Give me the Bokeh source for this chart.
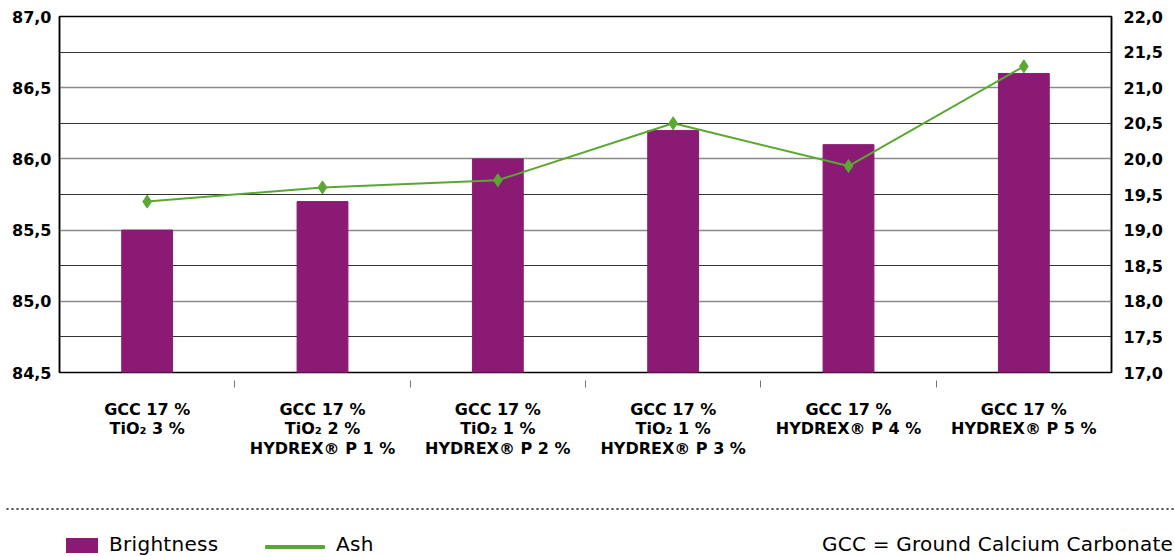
from bokeh.plotting import figure
from bokeh.models import (Range1d, LinearAxis, CategoricalAxis, FixedTicker, Grid, FactorRange,
                          CustomJSTickFormatter, Div)
from bokeh.layouts import column
from bokeh.embed import file_html
from bokeh.resources import INLINE

# ---- data ----
categories = [
    "GCC 17 %\nTiO₂ 3 %",
    "GCC 17 %\nTiO₂ 2 %\nHYDREX® P 1 %",
    "GCC 17 %\nTiO₂ 1 %\nHYDREX® P 2 %",
    "GCC 17 %\nTiO₂ 1 %\nHYDREX® P 3 %",
    "GCC 17 %\nHYDREX® P 4 %",
    "GCC 17 %\nHYDREX® P 5 %",
]
brightness = [85.5, 85.7, 86.0, 86.2, 86.1, 86.6]
ash = [19.4, 19.6, 19.7, 20.5, 19.9, 21.3]
left_ticks = [84.5, 85.0, 85.5, 86.0, 86.5, 87.0]
right_ticks = [17.0, 17.5, 18.0, 18.5, 19.0, 19.5, 20.0, 20.5, 21.0, 21.5, 22.0]
minor_grid = [84.75, 85.25, 85.75, 86.25, 86.75]
legend_labels = ["Brightness", "Ash"]
note = "GCC = Ground Calcium Carbonate"

PURPLE = "#8a1a74"
GREEN = "#5aa832"
FONT = "DejaVu Sans"

W = 1174
p = figure(width=W, height=470, x_range=FactorRange(*categories),
           y_range=Range1d(84.5, 87.0), output_backend="svg", toolbar_location=None,
           x_axis_location=None,
           min_border_left=59, min_border_right=63, min_border_top=16, min_border_bottom=98)
p.extra_y_ranges = {"ash": Range1d(17.0, 22.0)}

p.vbar(x=categories, top=brightness, bottom=84.5, width=0.29, color=PURPLE)
p.line(x=categories, y=ash, y_range_name="ash", line_color=GREEN, line_width=2)
p.scatter(x=categories, y=ash, y_range_name="ash", marker="diamond", size=13,
          color=GREEN)

fmt = CustomJSTickFormatter(code="return tick.toFixed(1).replace('.', ',');")

ya = p.yaxis[0]
ya.ticker = FixedTicker(ticks=left_ticks)
ya.formatter = fmt

ra = LinearAxis(y_range_name="ash", ticker=FixedTicker(ticks=right_ticks), formatter=fmt)
p.add_layout(ra, "right")

for ax in [ya, ra]:
    ax.major_label_text_font = FONT
    ax.major_label_text_font_style = "bold"
    ax.major_label_text_font_size = "16px"
    ax.major_label_text_color = "black"
    ax.major_tick_out = 0
    ax.major_tick_in = 0
    ax.minor_tick_out = 0
    ax.minor_tick_in = 0
    ax.axis_line_color = "black"
    ax.axis_line_width = 1.5
ya.major_label_standoff = 8
ra.major_label_standoff = 12

# small separator marks between categories (just under the axis)
sep = LinearAxis(ticker=FixedTicker(ticks=[1, 2, 3, 4, 5]),
                 formatter=CustomJSTickFormatter(code="return '';"),
                 axis_line_color=None, major_tick_in=-8, major_tick_out=15,
                 major_tick_line_color="#777777", major_tick_line_width=1,
                 minor_tick_in=0, minor_tick_out=0, major_label_standoff=0,
                 major_label_text_font_size="1px")
p.add_layout(sep, "below")

xa = CategoricalAxis(major_label_text_font=FONT, major_label_text_font_style="bold",
                     major_label_text_font_size="16px", major_label_text_color="black",
                     major_label_text_line_height=1.05, major_tick_out=0, major_tick_in=0,
                     axis_line_color=None, major_label_standoff=12)
p.add_layout(xa, "below")

p.xgrid.visible = False
p.ygrid.ticker = FixedTicker(ticks=left_ticks)
p.ygrid.grid_line_color = "#8a8a8a"
p.ygrid.grid_line_width = 1.5
g2 = Grid(dimension=1, ticker=FixedTicker(ticks=minor_grid), grid_line_color="#333333",
          grid_line_width=1.2)
p.add_layout(g2)
p.outline_line_color = "black"
p.outline_line_width = 1.5

# ---- bottom strip: dotted rule + legend ----
html = f"""
<div style="position:relative;width:{W}px;height:80px;font-family:'{FONT}';font-size:20px;color:#000;">
  <div style="position:absolute;left:0;top:32px;width:{W}px;height:4px;
       background-image:radial-gradient(circle, #555 1px, transparent 1.3px);
       background-size:5px 4px;background-repeat:repeat-x;"></div>
  <div style="position:absolute;left:61px;top:63px;width:32px;height:15px;background:{PURPLE};"></div>
  <div style="position:absolute;left:104px;top:57px;line-height:24px;white-space:nowrap;letter-spacing:0.3px;">{legend_labels[0]}</div>
  <div style="position:absolute;left:260px;top:70px;width:60px;height:4px;background:{GREEN};border-radius:1px;"></div>
  <div style="position:absolute;left:331px;top:57px;line-height:24px;white-space:nowrap;letter-spacing:0.3px;">{legend_labels[1]}</div>
  <div style="position:absolute;right:6px;top:57px;line-height:24px;white-space:nowrap;letter-spacing:0.23px;">{note}</div>
</div>
"""
b = Div(text=html, width=W, height=80)

layout = column(p, b, spacing=0)
open("out.html", "w").write(file_html(layout, INLINE))
